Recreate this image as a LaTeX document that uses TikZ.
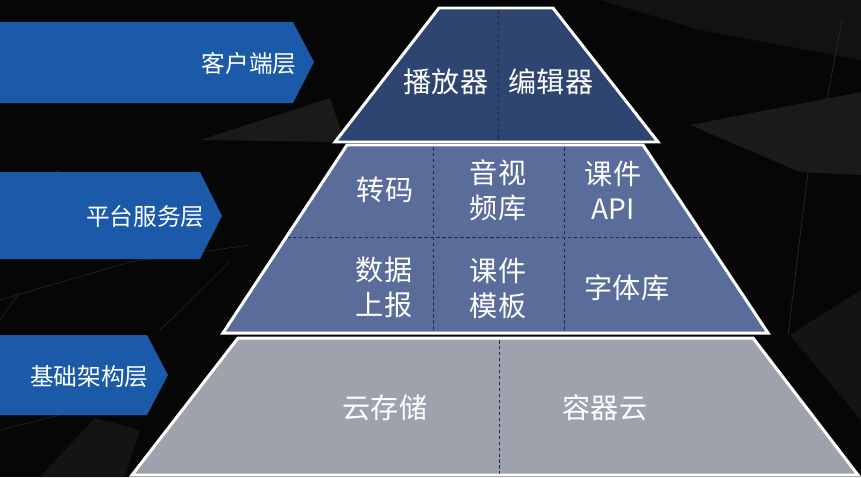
\documentclass[tikz,border=0pt]{standalone}
\usepackage{fontspec}
\newfontfamily\cjk{Noto Sans CJK SC}
\usetikzlibrary{positioning}

\definecolor{bgblack}{RGB}{6,6,7}
\definecolor{bgfacet}{RGB}{26,26,28}
\definecolor{bgline}{RGB}{40,40,42}
\definecolor{tagblue}{RGB}{27,90,168}
\definecolor{topnavy}{RGB}{46,68,113}
\definecolor{midblue}{RGB}{90,109,154}
\definecolor{basegray}{RGB}{157,162,173}
\definecolor{dashnavy}{RGB}{28,42,78}

\tikzset{
  layer/.style={draw=white, line width=1.7pt, line join=miter},
  divider/.style={dashnavy, line width=0.5pt, dash pattern=on 2pt off 1.4pt},
  tag/.style={fill=tagblue},
  taglabel/.style={font=\cjk\fontsize{13.5}{16}\selectfont, text=white, anchor=east, inner sep=0pt},
  cell/.style={font=\cjk\fontsize{16}{20}\selectfont, text=white, align=center, inner sep=0pt},
}

\begin{document}
\begin{tikzpicture}[x=0.02cm, y=-0.02cm]
% Background
\useasboundingbox (0,0) rectangle (861,477);
\fill[bgblack] (0,0) rectangle (861,477);
\fill[bgfacet] (200,140) -- (330,98) -- (345,142) -- cycle;
\fill[bgfacet] (690,125) -- (861,92) -- (861,175) -- (800,172) -- cycle;
\fill[bgfacet, opacity=0.6] (600,0) -- (861,0) -- (861,60) -- (700,30) -- cycle;
\fill[bgfacet, opacity=0.7] (790,335) -- (861,290) -- (861,420) -- cycle;
\fill[bgfacet, opacity=0.7] (40,477) -- (95,418) -- (140,430) -- (125,477) -- cycle;
\draw[bgline, line width=0.4pt] (842,20) -- (827,100);
\draw[bgline, line width=0.4pt] (808,172) -- (788,335);
\draw[bgline, line width=0.3pt] (0,300) -- (130,262) -- (250,245);
\draw[bgline, line width=0.3pt] (20,292) -- (0,320);
\draw[bgline, line width=0.3pt] (60,170) -- (0,200);
\draw[bgline, line width=0.3pt] (230,262) -- (160,330);
\draw[bgline, line width=0.3pt] (0,430) -- (120,400);

% Layer tags
\fill[tag] (0,22) -- (293,22) -- (314,62) -- (293,103) -- (0,103) -- cycle;
\fill[tag] (0,172) -- (200,172) -- (222,216) -- (200,259) -- (0,259) -- cycle;
\fill[tag] (0,335) -- (147,335) -- (168,375) -- (147,415) -- (0,415) -- cycle;
\node[taglabel] (client) at (297,63) {客户端层};
\node[taglabel] (platform) at (205,217) {平台服务层};
\node[taglabel] (infra) at (149,377) {基础架构层};

% Bottom layer
\fill[basegray] (238,338) -- (753,338) -- (858,475) -- (132,475) -- cycle;
\draw[divider] (499,340) -- (499,474);
\draw[layer] (238,338) -- (753,338) -- (858,475) -- (132,475) -- cycle;
\node[cell] (storage) at (385,408) {云存储};
\node[cell] (container) at (605,408) {容器云};

% Middle layer
\fill[midblue] (347,145) -- (643,145) -- (768,333) -- (223,333) -- cycle;
\draw[divider] (433,147) -- (433,331);
\draw[divider] (564,147) -- (564,331);
\draw[divider] (287,237) -- (704,237);
\draw[layer] (347,145) -- (643,145) -- (768,333) -- (223,333) -- cycle;
\node[cell] (transcode) at (385,190) {转码};
\node[cell] (media) at (498,190) {音视\\频库};
\node[cell] (api) at (613,190) {课件\\API};
\node[cell] (report) at (384,287) {数据\\上报};
\node[cell] (template) at (498,288) {课件\\模板};
\node[cell] (fonts) at (627,288) {字体库};

% Top layer
\fill[topnavy] (439,8) -- (553,8) -- (658,142) -- (335,142) -- cycle;
\draw[divider] (498,10) -- (498,140);
\draw[layer] (439,8) -- (553,8) -- (658,142) -- (335,142) -- cycle;
\node[cell] (player) at (446,82) {播放器};
\node[cell] (editor) at (551,82) {编辑器};
\end{tikzpicture}
\end{document}
